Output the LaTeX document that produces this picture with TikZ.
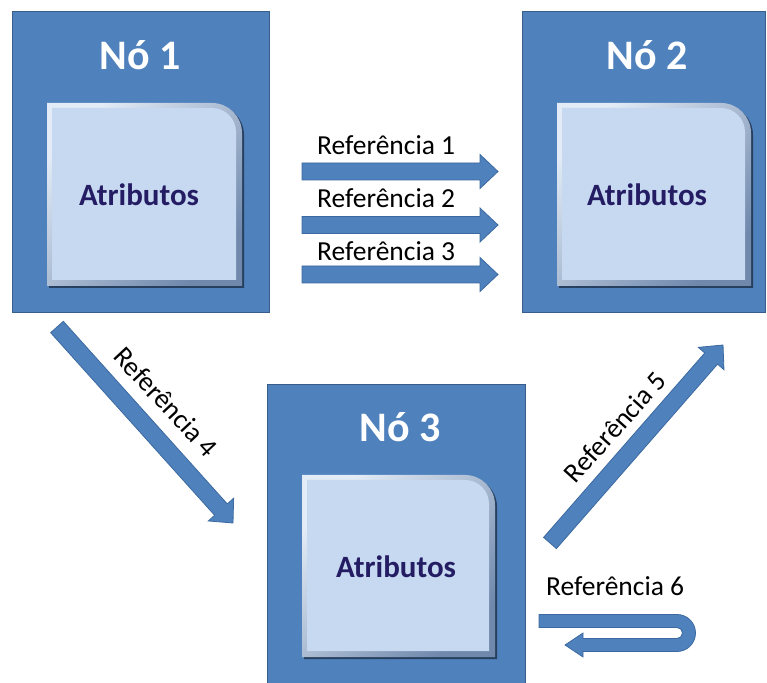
\documentclass[tikz,border=0pt]{standalone}
\usepackage{fontspec}
\setmainfont{Carlito}
\usetikzlibrary{calc}

\definecolor{nodeblue}{HTML}{4F81BD}
\definecolor{nodeedge}{HTML}{385D8A}
\definecolor{arrowedge}{HTML}{3C6AA0}
\definecolor{faceblue}{HTML}{C6D9F1}
\definecolor{rimlight}{HTML}{E2EBF6}
\definecolor{rimdark}{HTML}{6F88AC}
\definecolor{boxshadow}{HTML}{1F3048}
\definecolor{attrtext}{HTML}{251D63}

\tikzset{
  outerbox/.style={draw=nodeedge, line width=1pt, fill=nodeblue, inner sep=0pt},
  titletext/.style={text=white, font=\fontsize{42}{50}\selectfont\bfseries, anchor=base, inner sep=0pt},
  attrlabel/.style={text=attrtext, font=\fontsize{31}{37}\selectfont\bfseries, anchor=base, inner sep=0pt},
  reflabel/.style={text=black, font=\fontsize{27.5}{33}\selectfont, inner sep=0pt},
  blockarrowstyle/.style={fill=nodeblue, draw=arrowedge, line width=0.8pt, line join=miter},
}

% attribute panel: bevelled square with one rounded corner (top right)
% #1,#2 = lower left, #3,#4 = upper right
\newcommand\attrpanel[4]{%
  \fill[boxshadow, opacity=0.8] (#1+2,#2-2) -- (#1+2,#4-2) -- (#3-28,#4-2)
     arc[start angle=90, end angle=0, radius=30] -- (#3+2,#2-2) -- cycle;
  \shade[top color=rimlight, bottom color=rimdark, shading angle=45]
     (#1,#2) -- (#1,#4) -- (#3-30,#4)
     arc[start angle=90, end angle=0, radius=30] -- (#3,#2) -- cycle;
  \fill[faceblue] (#1+5,#2+6) -- (#1+5,#4-5) -- (#3-30,#4-5)
     arc[start angle=90, end angle=0, radius=24] -- (#3-6,#2+6) -- cycle;
}

% straight block arrow from #1 (tail) to #2 (tip); #3 half shaft, #4 half head
\newcommand\blockarrow[4]{%
  \coordinate (headbase) at ($(#2)!18pt!(#1)$);
  \filldraw[blockarrowstyle]
     ($(#1)!#3!90:(#2)$) -- ($(headbase)!#3!90:(#2)$) -- ($(headbase)!#4!90:(#2)$)
     -- (#2) -- ($(headbase)!#4!-90:(#2)$) -- ($(headbase)!#3!-90:(#2)$)
     -- ($(#1)!#3!-90:(#2)$) -- cycle;
}

\begin{document}
\begin{tikzpicture}[x=1pt, y=1pt]
\useasboundingbox (0,0) rectangle (767,682);
\clip (0,0) rectangle (767,682);

% ---- node boxes ----
\node[outerbox, minimum width=257pt, minimum height=301pt] (n1) at (140.5,519.5) {};
\node[outerbox, minimum width=243pt, minimum height=301pt] (n2) at (643.5,519.5) {};
\node[outerbox, minimum width=258pt, minimum height=312pt] (n3) at (396,141) {};

\attrpanel{47}{396}{242}{579}
\attrpanel{557}{396}{751}{579}
\attrpanel{302}{25}{495}{207}

\node[titletext] (t1) at (140,612) {Nó 1};
\node[titletext] (t2) at (647,612) {Nó 2};
\node[titletext] (t3) at (400,240) {Nó 3};

\node[attrlabel] (a1) at (139,476) {Atributos};
\node[attrlabel] (a2) at (647,476) {Atributos};
\node[attrlabel] (a3) at (396,104) {Atributos};

% ---- reference arrows ----
\coordinate (r1s) at (302,510.5); \coordinate (r1e) at (498,510.5);
\coordinate (r2s) at (302,457);   \coordinate (r2e) at (498,457);
\coordinate (r3s) at (302,407.5); \coordinate (r3e) at (498,407.5);
\coordinate (r4s) at (57,355);    \coordinate (r4e) at (233,159);
\coordinate (r5s) at (550,139);   \coordinate (r5e) at (723,337);

\blockarrow{r1s}{r1e}{8.5pt}{17pt}
\blockarrow{r2s}{r2e}{8.5pt}{17pt}
\blockarrow{r3s}{r3e}{8.5pt}{17pt}
\blockarrow{r4s}{r4e}{8.5pt}{17pt}
\blockarrow{r5s}{r5e}{8.5pt}{17pt}

% self reference: U-turn arrow
\coordinate (r6s) at (539,61);
\coordinate (r6e) at (565,37);
\filldraw[blockarrowstyle]
  ($(r6s)+(0,6.5)$) -- (677,67.5) arc[start angle=90, end angle=-90, radius=18.5]
  -- (583,30.5) -- (583,25) -- (r6e) -- (583,49) -- (583,43.5) -- (677,43.5)
  arc[start angle=-90, end angle=90, radius=5.5] -- ($(r6s)+(0,-6.5)$) -- cycle;

% ---- labels ----
\node[reflabel, anchor=base west] (l1) at (317,527) {Referência 1};
\node[reflabel, anchor=base west] (l2) at (317,474) {Referência 2};
\node[reflabel, anchor=base west] (l3) at (317,421) {Referência 3};
\node[reflabel, rotate=-47] (l4) at (166,280) {Referência 4};
\node[reflabel, rotate=48] (l5) at (615,255) {Referência 5};
\node[reflabel, anchor=base west] (l6) at (546,87) {Referência 6};
\end{tikzpicture}
\end{document}
